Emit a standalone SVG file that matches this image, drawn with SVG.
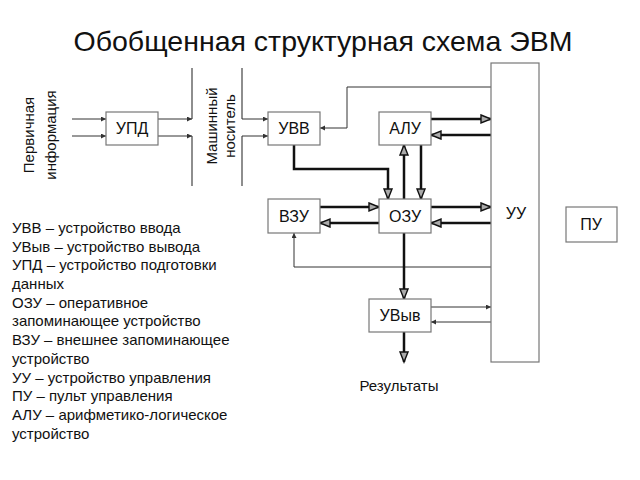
<svg xmlns="http://www.w3.org/2000/svg" width="640" height="480" viewBox="0 0 640 480">
<defs>
<style>
text{font-family:"Liberation Sans",Arial,sans-serif;fill:#111}
.box rect{fill:#fff;stroke:#777;stroke-width:1.2}
.box text{font-size:16px;text-anchor:middle}
.thin{fill:none;stroke:#333;stroke-width:1}
.thick{fill:none;stroke:#111;stroke-width:2.5}
.tape{fill:none;stroke:#444;stroke-width:1.2}
.leg{font-size:15px}
</style>
<marker id="ah" markerUnits="userSpaceOnUse" markerWidth="14" markerHeight="12" refX="11" refY="5" orient="auto">
<path d="M1,1 L11,5 L1,9 z" fill="#aaa" stroke="#111" stroke-width="1.4"/>
</marker>
<marker id="sa" markerUnits="userSpaceOnUse" markerWidth="8" markerHeight="6" refX="5" refY="2.5" orient="auto">
<path d="M0,0 L5,2.5 L0,5 z" fill="#333"/>
</marker>
</defs>
<rect width="640" height="480" fill="#fff"/>
<text x="323" y="51" font-size="28.5" text-anchor="middle">Обобщенная структурная схема ЭВМ</text>

<g id="label-primary">
<text transform="translate(34,135) rotate(-90)" font-size="15" text-anchor="middle">Первичная</text>
<text transform="translate(56,135) rotate(-90)" font-size="15" text-anchor="middle">информация</text>
</g>
<g id="label-carrier">
<text transform="translate(217,126) rotate(-90)" font-size="15" text-anchor="middle">Машинный</text>
<text transform="translate(235,126) rotate(-90)" font-size="15" text-anchor="middle">носитель</text>
</g>

<g id="connectors">
<path class="tape" d="M192,68 V119 M192,136 V186 M242,68 V119 M242,136 V186"/>
<path class="thin" d="M72,119 H106" marker-end="url(#sa)"/>
<path class="thin" d="M72,136 H106" marker-end="url(#sa)"/>
<path class="thin" d="M158,119 H192" marker-end="url(#sa)"/>
<path class="thin" d="M158,136 H192" marker-end="url(#sa)"/>
<path class="thin" d="M242,119 H268" marker-end="url(#sa)"/>
<path class="thin" d="M242,136 H268" marker-end="url(#sa)"/>
<path class="thin" d="M491,87 H347 V128 H320" marker-end="url(#sa)"/>
<path class="thin" d="M491,267 H294 V233" marker-end="url(#sa)"/>
<path class="thin" d="M431,307 H491" marker-end="url(#sa)"/>
<path class="thin" d="M491,322 H431" marker-end="url(#sa)"/>
<path class="thick" d="M431,119 H491" marker-end="url(#ah)"/>
<path class="thick" d="M491,135 H431" marker-end="url(#ah)"/>
<path class="thick" d="M320,207 H379" marker-end="url(#ah)"/>
<path class="thick" d="M379,223 H320" marker-end="url(#ah)"/>
<path class="thick" d="M431,207 H491" marker-end="url(#ah)"/>
<path class="thick" d="M491,223 H431" marker-end="url(#ah)"/>
<path class="thick" d="M294,145 V169 H388 V199" marker-end="url(#ah)"/>
<path class="thick" d="M404,199 V145" marker-end="url(#ah)"/>
<path class="thick" d="M421,145 V199" marker-end="url(#ah)"/>
<path class="thick" d="M404,233 V299" marker-end="url(#ah)"/>
<path class="thick" d="M404,332 V362" marker-end="url(#ah)"/>
</g>

<g id="upd" class="box"><rect x="106" y="112" width="52" height="33"/><text x="132" y="134">УПД</text></g>
<g id="uvv" class="box"><rect x="268" y="112" width="52" height="33"/><text x="294" y="134">УВВ</text></g>
<g id="alu" class="box"><rect x="379" y="112" width="52" height="33"/><text x="405" y="134">АЛУ</text></g>
<g id="vzu" class="box"><rect x="268" y="199" width="52" height="34"/><text x="294" y="222">ВЗУ</text></g>
<g id="ozu" class="box"><rect x="379" y="199" width="52" height="34"/><text x="405" y="222">ОЗУ</text></g>
<g id="uvyv" class="box"><rect x="369" y="299" width="62" height="33"/><text x="400" y="321">УВыв</text></g>
<g id="uu" class="box"><rect x="491" y="63" width="48" height="299"/><text x="516" y="219">УУ</text></g>
<g id="pu" class="box"><rect x="566" y="207" width="51" height="35"/><text x="591" y="230">ПУ</text></g>

<text x="399" y="391" font-size="15" text-anchor="middle">Результаты</text>

<g id="legend" class="leg">
<text x="12" y="233" class="leg">УВВ – устройство ввода</text>
<text x="12" y="252" class="leg">УВыв – устройство вывода</text>
<text x="12" y="270" class="leg">УПД – устройство подготовки</text>
<text x="12" y="289" class="leg">данных</text>
<text x="12" y="308" class="leg">ОЗУ – оперативное</text>
<text x="12" y="326" class="leg">запоминающее устройство</text>
<text x="12" y="345" class="leg">ВЗУ – внешнее запоминающее</text>
<text x="12" y="364" class="leg">устройство</text>
<text x="12" y="383" class="leg">УУ – устройство управления</text>
<text x="12" y="401" class="leg">ПУ – пульт управления</text>
<text x="12" y="420" class="leg">АЛУ – арифметико-логическое</text>
<text x="12" y="439" class="leg">устройство</text>
</g>
</svg>
